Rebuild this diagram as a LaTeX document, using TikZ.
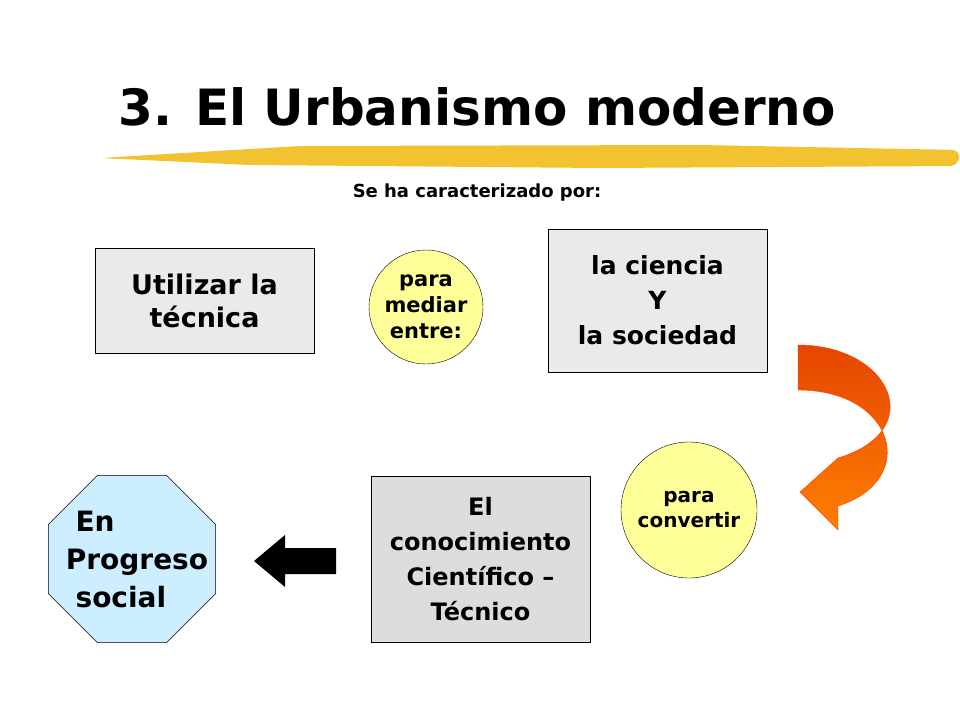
\documentclass[tikz,border=0pt]{standalone}
\usepackage{fontspec}
\setmainfont{DejaVu Sans}
\usetikzlibrary{shapes.geometric}
\definecolor{boxgray}{HTML}{EAEAEA}
\definecolor{boxgraydark}{HTML}{DDDDDD}
\definecolor{paleyellow}{HTML}{FFFF99}
\definecolor{paleblue}{HTML}{CCEEFF}
\definecolor{brush}{HTML}{F2C230}
\tikzset{
  textbox/.style={draw, fill=boxgray, align=center, font=\bfseries\fontsize{27}{33}\selectfont, inner sep=0pt},
  bubble/.style={circle, draw, fill=paleyellow, align=center, font=\bfseries\fontsize{21}{26}\selectfont, inner sep=0pt}
}
\begin{document}
\begin{tikzpicture}[x=1pt, y=-1pt]
  \useasboundingbox (0,0) rectangle (960,720);

  % title and brush stroke
  \fill[brush, rounded corners=8pt] (100,158) -- (300,146) -- (700,145) -- (960,150) -- (958,166) -- (600,168) -- (250,165) -- cycle;
  \node[font=\bfseries\fontsize{50}{60}\selectfont] (title) at (477,107) {3. El Urbanismo moderno};
  \node[font=\bfseries\fontsize{18}{22}\selectfont] (sub) at (477,193) {Se ha caracterizado por:};

  % top row
  \node[textbox, minimum width=219pt, minimum height=105pt] (tecnica) at (204.5,300.5) {Utilizar la\\técnica};
  \node[bubble, minimum size=114pt] (mediar) at (426,307) {para\\mediar\\entre:};
  \node[textbox, font=\bfseries\fontsize{25}{35}\selectfont, minimum width=219pt, minimum height=143pt] (ciencia) at (657.5,300.5) {la ciencia\\Y\\la sociedad};

  % curved arrow
  \shade[top color=orange!60!red!90!black, bottom color=orange, draw=orange!50!red]
    (798,345) .. controls (890,345) and (930,430) .. (838,458)
    -- (800,492) -- (838,530) -- (838,506)
    .. controls (920,480) and (895,390) .. (798,390) -- cycle;

  % bottom row
  \node[bubble, minimum size=136pt, font=\bfseries\fontsize{20}{25}\selectfont] (convertir) at (689,510) {para\\convertir};
  \node[textbox, fill=boxgraydark, font=\bfseries\fontsize{24}{35}\selectfont, minimum width=219pt, minimum height=166pt] (conoc) at (480.5,559) {El\\conocimiento\\Científico –\\Técnico};
  \node[regular polygon, regular polygon sides=8, draw, fill=paleblue, minimum size=181pt, inner sep=0pt] (progreso) at (132,559) {};
  \node[align=left, font=\bfseries\fontsize{28}{38}\selectfont] (progtext) at (137,559) {\ En\\Progreso\\\ social};

  % black arrow
  \fill (336,548) -- (285,548) -- (285,535) -- (254,561) -- (285,587) -- (285,574) -- (336,574) -- cycle;
\end{tikzpicture}
\end{document}
